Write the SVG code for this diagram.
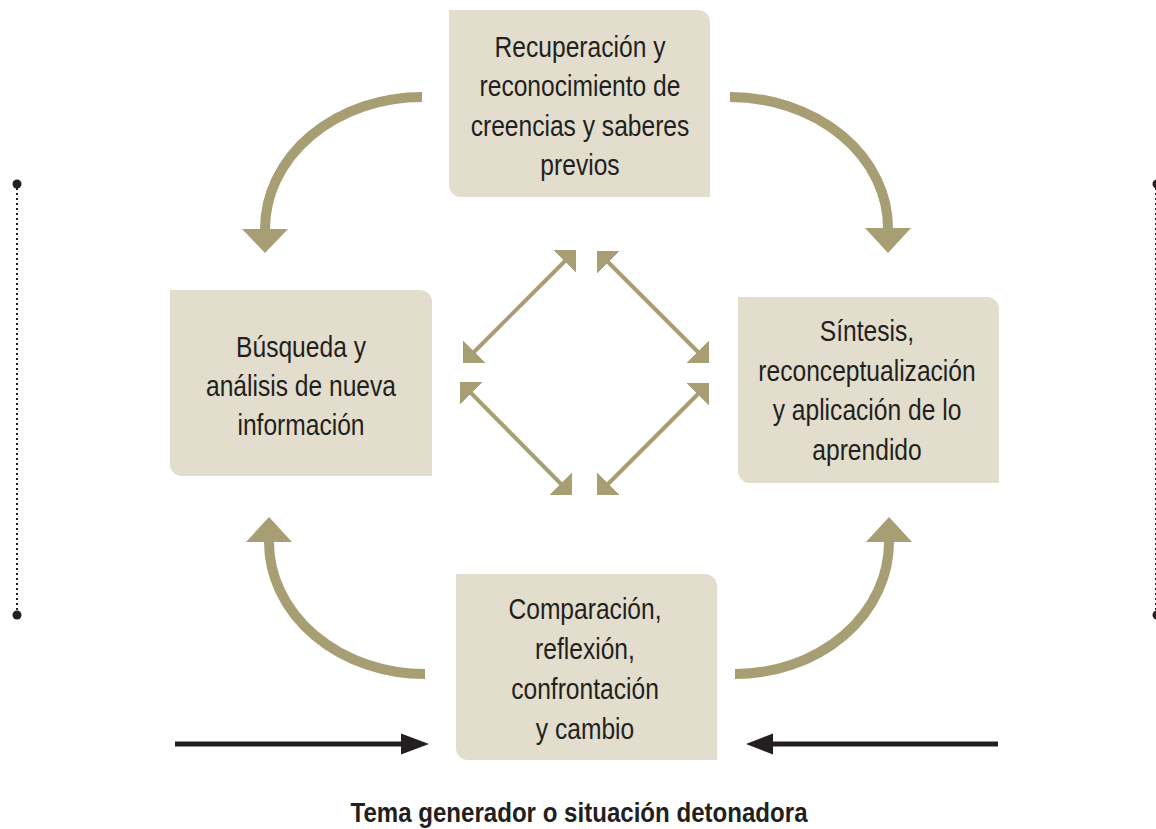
<svg xmlns="http://www.w3.org/2000/svg" width="1156" height="829" viewBox="0 0 1156 829">
<style>
.box{fill:#e2ddcc}
.t{font-family:"Liberation Sans",Arial,sans-serif;font-size:30px;fill:#231f20;text-anchor:middle}
.title{font-family:"Liberation Sans",Arial,sans-serif;font-size:28px;font-weight:bold;fill:#231f20;text-anchor:middle}
.arc{fill:none;stroke:#a89e74;stroke-width:10}
.head{fill:#a89e74}
.dbl{stroke:#a89e74;stroke-width:4;fill:none;marker-start:url(#ah);marker-end:url(#ah)}
.blk{stroke:#231f20;stroke-width:5;fill:none}
.dot{stroke:#231f20;stroke-width:2;stroke-dasharray:2 3;fill:none}
</style>
<defs>
<marker id="ah" markerUnits="userSpaceOnUse" viewBox="0 0 16 32" markerWidth="16" markerHeight="32" refX="4" refY="16" orient="auto-start-reverse">
<path d="M0,0 L16,16 L0,32 z" fill="#a89e74"/>
</marker>
</defs>
<rect width="1156" height="829" fill="#ffffff"/>

<g id="side-lines">
<line class="dot" x1="17" y1="188" x2="17" y2="611"/>
<circle cx="17" cy="184" r="4.5" fill="#231f20"/>
<circle cx="17" cy="615" r="4.5" fill="#231f20"/>
<line class="dot" x1="1156" y1="188" x2="1156" y2="611"/>
<circle cx="1157" cy="184" r="4.5" fill="#231f20"/>
<circle cx="1157" cy="615" r="4.5" fill="#231f20"/>
</g>

<g id="connectors">
<path class="arc" d="M422,97 A157,132 0 0 0 265,229"/>
<polygon class="head" points="242,229 288,229 265,253"/>
<path class="arc" d="M730,97 A158,131 0 0 1 888,228"/>
<polygon class="head" points="865,228 911,228 888,253"/>
<path class="arc" d="M425,674 A156,132 0 0 1 269,542"/>
<polygon class="head" points="246,542 292,542 269,517"/>
<path class="arc" d="M735,674 A154,132 0 0 0 889,542"/>
<polygon class="head" points="866,542 912,542 889,517"/>

<line class="dbl" x1="567.5" y1="258.5" x2="471.5" y2="354.5"/>
<line class="dbl" x1="605.5" y1="259.5" x2="700.5" y2="354.5"/>
<line class="dbl" x1="468.5" y1="390.5" x2="563.5" y2="486.5"/>
<line class="dbl" x1="700.5" y1="391.5" x2="605.5" y2="486.5"/>

<line class="blk" x1="175" y1="744" x2="403" y2="744"/>
<polygon points="401,733.5 429,744 401,754.5" fill="#231f20"/>
<line class="blk" x1="771" y1="744" x2="998" y2="744"/>
<polygon points="773,733.5 746,744 773,754.5" fill="#231f20"/>
</g>

<g id="node-top">
<path class="box" d="M449,10 H698 A12,12 0 0 1 710,22 V197 H461 A12,12 0 0 1 449,185 Z"/>
<g transform="translate(580,0) scale(0.82,1)">
<text class="t" x="0" y="57">Recuperación y</text>
<text class="t" x="0" y="96">reconocimiento de</text>
<text class="t" x="0" y="136">creencias y saberes</text>
<text class="t" x="0" y="175">previos</text>
</g>
</g>

<g id="node-left">
<path class="box" d="M170,290 H420 A12,12 0 0 1 432,302 V476 H182 A12,12 0 0 1 170,464 Z"/>
<g transform="translate(301,0) scale(0.82,1)">
<text class="t" x="0" y="357">Búsqueda y</text>
<text class="t" x="0" y="396">análisis de nueva</text>
<text class="t" x="0" y="435">información</text>
</g>
</g>

<g id="node-right">
<path class="box" d="M738,297 H987 A12,12 0 0 1 999,309 V483 H750 A12,12 0 0 1 738,471 Z"/>
<g transform="translate(867,0) scale(0.82,1)">
<text class="t" x="0" y="341">Síntesis,</text>
<text class="t" x="0" y="381">reconceptualización</text>
<text class="t" x="0" y="420">y aplicación de lo</text>
<text class="t" x="0" y="460">aprendido</text>
</g>
</g>

<g id="node-bottom">
<path class="box" d="M456,574 H705 A12,12 0 0 1 717,586 V760 H468 A12,12 0 0 1 456,748 Z"/>
<g transform="translate(585,0) scale(0.82,1)">
<text class="t" x="0" y="619">Comparación,</text>
<text class="t" x="0" y="659">reflexión,</text>
<text class="t" x="0" y="699">confrontación</text>
<text class="t" x="0" y="739">y cambio</text>
</g>
</g>

<g id="caption">
<g transform="translate(579,0) scale(0.86,1)">
<text class="title" x="0" y="822">Tema generador o situación detonadora</text>
</g>
</g>
</svg>
